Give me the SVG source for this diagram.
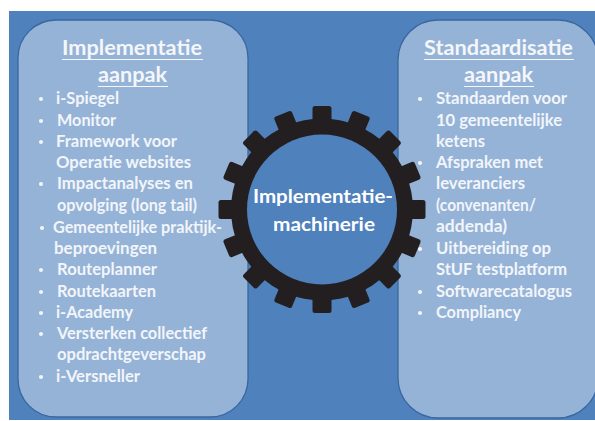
<svg xmlns="http://www.w3.org/2000/svg" xmlns:xlink="http://www.w3.org/1999/xlink" width="595" height="421" viewBox="0 0 595 421">
  <style>
    .bg { fill: #4f81bd; }
    .panel { fill: #95b3d7; stroke: #3a679e; stroke-width: 1.3; }
    .title { font-family: Lato, "Liberation Sans", sans-serif; font-weight: 700; font-size: 20px; fill: #f4f6fa; text-anchor: middle; }
    .uline { stroke: #f4f6fa; stroke-width: 1.1; }
    .item { font-family: Lato, "Liberation Sans", sans-serif; font-weight: 700; font-size: 17px; fill: #f2f5fa; }
    .dot { fill: #f2f5fa; }
    .gear { fill: #231f20; }
    .hub { fill: #4f81bd; }
    .center { font-family: Lato, "Liberation Sans", sans-serif; font-weight: 700; font-size: 19.5px; fill: #ffffff; text-anchor: middle; }
  </style>
  <defs>
    <rect id="tooth" x="-9.5" y="-103.5" width="19" height="20" rx="2.5"/>
  </defs>

  <!-- backdrop -->
  <rect width="595" height="421" fill="#ffffff"/>
  <rect class="bg" x="9" y="11" width="586" height="409"/>

  <!-- left column: implementation approach -->
  <g id="panel-implementatie">
    <rect class="panel" x="18" y="20" width="230" height="397" rx="38"/>
    <text class="title" x="132" y="55" textLength="140" lengthAdjust="spacingAndGlyphs">Implementatie</text>
    <line class="uline" x1="62" y1="59.5" x2="203" y2="59.5"/>
    <text class="title" x="132.5" y="82" textLength="69" lengthAdjust="spacingAndGlyphs">aanpak</text>
    <line class="uline" x1="98" y1="86.5" x2="168" y2="86.5"/>

    <circle class="dot" cx="41" cy="99" r="2.1"/>
    <circle class="dot" cx="41" cy="121" r="2.1"/>
    <circle class="dot" cx="41" cy="142" r="2.1"/>
    <circle class="dot" cx="41" cy="184" r="2.1"/>
    <circle class="dot" cx="42" cy="228" r="2.1"/>
    <circle class="dot" cx="41" cy="270" r="2.1"/>
    <circle class="dot" cx="41" cy="292" r="2.1"/>
    <circle class="dot" cx="41" cy="313" r="2.1"/>
    <circle class="dot" cx="41" cy="334" r="2.1"/>
    <circle class="dot" cx="41" cy="377" r="2.1"/>

    <text class="item" x="56" y="104" textLength="63" lengthAdjust="spacingAndGlyphs">i-Spiegel</text>
    <text class="item" x="57" y="126" textLength="59" lengthAdjust="spacingAndGlyphs">Monitor</text>
    <text class="item" x="56" y="147" textLength="121" lengthAdjust="spacingAndGlyphs">Framework voor</text>
    <text class="item" x="56" y="168" textLength="135" lengthAdjust="spacingAndGlyphs">Operatie websites</text>
    <text class="item" x="57" y="189" textLength="136" lengthAdjust="spacingAndGlyphs">Impactanalyses en</text>
    <text class="item" x="57" y="211" textLength="140" lengthAdjust="spacingAndGlyphs">opvolging (long tail)</text>
    <text class="item" x="53" y="233" textLength="169" lengthAdjust="spacingAndGlyphs">Gemeentelijke praktijk-</text>
    <text class="item" x="54" y="254" textLength="103" lengthAdjust="spacingAndGlyphs">beproevingen</text>
    <text class="item" x="57" y="275" textLength="100" lengthAdjust="spacingAndGlyphs">Routeplanner</text>
    <text class="item" x="57" y="297" textLength="99" lengthAdjust="spacingAndGlyphs">Routekaarten</text>
    <text class="item" x="56" y="318" textLength="77" lengthAdjust="spacingAndGlyphs">i-Academy</text>
    <text class="item" x="57" y="339" textLength="150" lengthAdjust="spacingAndGlyphs">Versterken collectief</text>
    <text class="item" x="57" y="360" textLength="149" lengthAdjust="spacingAndGlyphs">opdrachtgeverschap</text>
    <text class="item" x="56" y="382" textLength="84" lengthAdjust="spacingAndGlyphs">i-Versneller</text>
  </g>

  <!-- right column: standardisation approach -->
  <g id="panel-standaardisatie">
    <rect class="panel" x="398" y="20" width="200" height="398" rx="40"/>
    <text class="title" x="498.5" y="55" textLength="149" lengthAdjust="spacingAndGlyphs">Standaardisatie</text>
    <line class="uline" x1="424" y1="59.5" x2="574" y2="59.5"/>
    <text class="title" x="498.5" y="82" textLength="69" lengthAdjust="spacingAndGlyphs">aanpak</text>
    <line class="uline" x1="464" y1="86.5" x2="534" y2="86.5"/>

    <circle class="dot" cx="420" cy="99" r="2.1"/>
    <circle class="dot" cx="420" cy="163" r="2.1"/>
    <circle class="dot" cx="420" cy="249" r="2.1"/>
    <circle class="dot" cx="420" cy="292" r="2.1"/>
    <circle class="dot" cx="420" cy="313" r="2.1"/>

    <text class="item" x="436" y="104" textLength="131" lengthAdjust="spacingAndGlyphs">Standaarden voor</text>
    <text class="item" x="436" y="126" textLength="126" lengthAdjust="spacingAndGlyphs">10 gemeentelijke</text>
    <text class="item" x="436" y="147" textLength="49" lengthAdjust="spacingAndGlyphs">ketens</text>
    <text class="item" x="436" y="168" textLength="107" lengthAdjust="spacingAndGlyphs">Afspraken met</text>
    <text class="item" x="436" y="189" textLength="89" lengthAdjust="spacingAndGlyphs">leveranciers</text>
    <text class="item" x="436" y="211" textLength="100" lengthAdjust="spacingAndGlyphs">(convenanten/</text>
    <text class="item" x="436" y="232" textLength="71" lengthAdjust="spacingAndGlyphs">addenda)</text>
    <text class="item" x="436" y="254" textLength="115" lengthAdjust="spacingAndGlyphs">Uitbereiding op</text>
    <text class="item" x="436" y="275" textLength="131" lengthAdjust="spacingAndGlyphs">StUF testplatform</text>
    <text class="item" x="436" y="297" textLength="136" lengthAdjust="spacingAndGlyphs">Softwarecatalogus</text>
    <text class="item" x="436" y="318" textLength="85" lengthAdjust="spacingAndGlyphs">Compliancy</text>
  </g>

  <!-- the cog wheel in the middle: 16 teeth around a ring -->
  <g id="machinerie">
    <g class="gear" transform="translate(322 209.5)">
      <circle r="91"/>
      <use xlink:href="#tooth" transform="rotate(0)"/>
      <use xlink:href="#tooth" transform="rotate(22.5)"/>
      <use xlink:href="#tooth" transform="rotate(45)"/>
      <use xlink:href="#tooth" transform="rotate(67.5)"/>
      <use xlink:href="#tooth" transform="rotate(90)"/>
      <use xlink:href="#tooth" transform="rotate(112.5)"/>
      <use xlink:href="#tooth" transform="rotate(135)"/>
      <use xlink:href="#tooth" transform="rotate(157.5)"/>
      <use xlink:href="#tooth" transform="rotate(180)"/>
      <use xlink:href="#tooth" transform="rotate(202.5)"/>
      <use xlink:href="#tooth" transform="rotate(225)"/>
      <use xlink:href="#tooth" transform="rotate(247.5)"/>
      <use xlink:href="#tooth" transform="rotate(270)"/>
      <use xlink:href="#tooth" transform="rotate(292.5)"/>
      <use xlink:href="#tooth" transform="rotate(315)"/>
      <use xlink:href="#tooth" transform="rotate(337.5)"/>
      <circle class="hub" r="75"/>
    </g>
    <text class="center" x="323" y="203" textLength="140" lengthAdjust="spacingAndGlyphs">Implementatie-</text>
    <text class="center" x="324" y="231" textLength="102" lengthAdjust="spacingAndGlyphs">machinerie</text>
  </g>

  <g id="connectors"/>
</svg>
